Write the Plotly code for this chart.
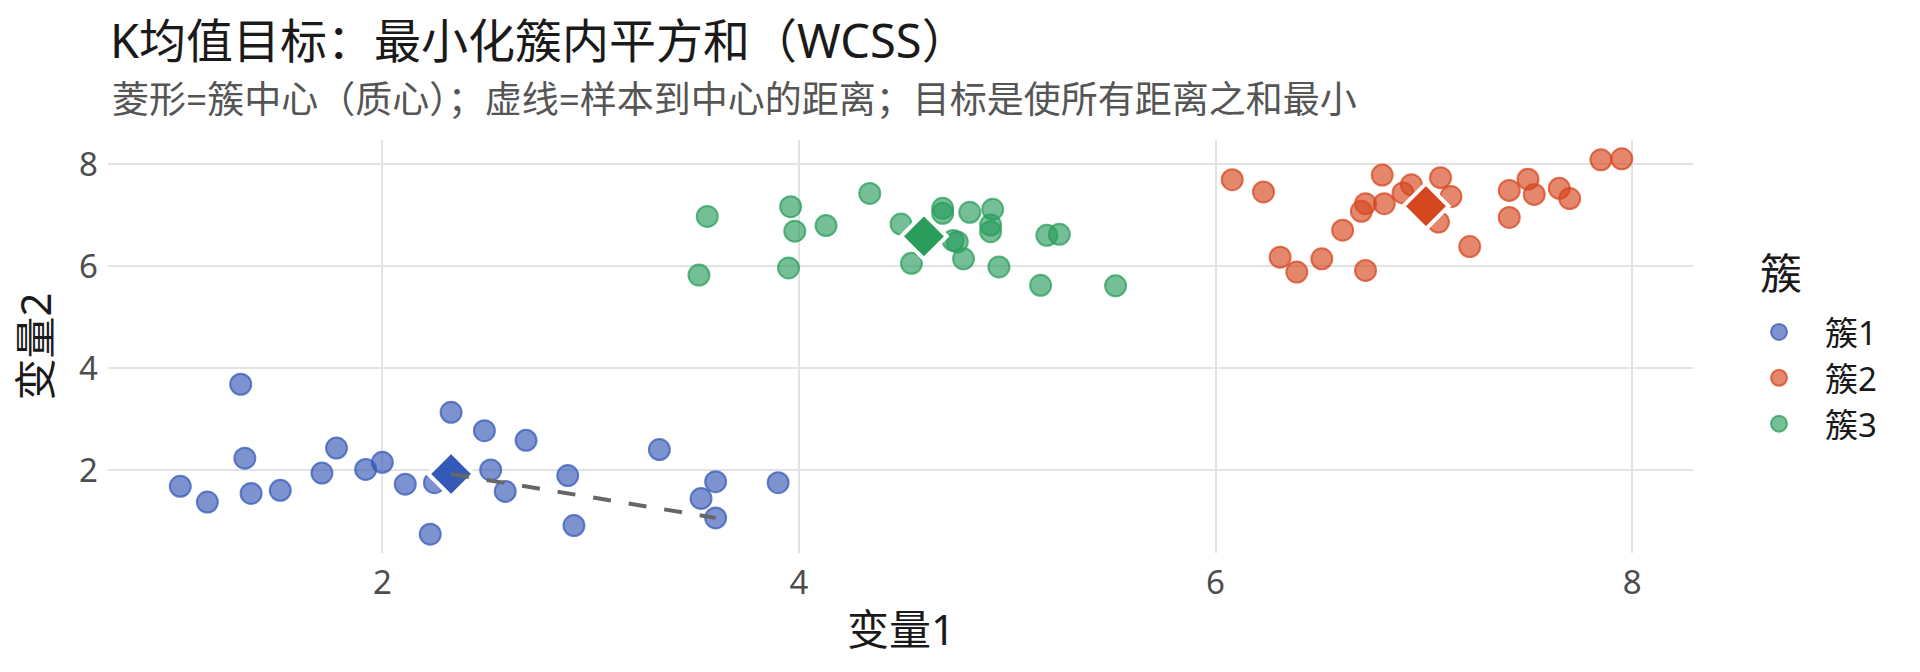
import plotly.graph_objects as go

# cluster samples
c1_x = [1.03, 1.16, 1.32, 1.34, 1.37, 1.51, 1.71, 1.78, 1.92, 2.00, 2.11, 2.23, 2.25,
        2.33, 2.49, 2.52, 2.59, 2.69, 2.89, 2.92, 3.33, 3.53, 3.60, 3.60, 3.90]
c1_y = [1.69, 1.38, 3.69, 2.24, 1.55, 1.61, 1.95, 2.44, 2.02, 2.16, 1.73, 0.75, 1.76,
        3.14, 2.78, 2.01, 1.59, 2.59, 1.90, 0.92, 2.41, 1.45, 1.78, 1.07, 1.76]

c2_x = [6.08, 6.23, 6.31, 6.39, 6.51, 6.61, 6.70, 6.72, 6.72, 6.80, 6.81, 6.90, 6.94,
        7.08, 7.13, 7.07, 7.22, 7.41, 7.50, 7.53, 7.41, 7.65, 7.70, 7.85, 7.95]
c2_y = [7.70, 7.46, 6.18, 5.89, 6.15, 6.71, 7.08, 7.23, 5.92, 7.79, 7.23, 7.44, 7.60,
        7.74, 7.37, 6.87, 6.39, 7.49, 7.71, 7.41, 6.96, 7.53, 7.33, 8.09, 8.11]

c3_x = [3.56, 3.52, 3.96, 3.98, 3.95, 4.13, 4.34, 4.49, 4.69, 4.69, 4.82, 4.93,
        4.92, 4.92, 4.74, 4.76, 4.79, 4.54, 4.96, 5.19, 5.25, 5.16, 5.52]
c3_y = [6.98, 5.83, 7.17, 6.69, 5.97, 6.80, 7.43, 6.83, 7.14, 7.04, 7.06, 7.12,
        6.81, 6.68, 6.51, 6.48, 6.15, 6.06, 5.99, 6.61, 6.63, 5.63, 5.62]

names = ["簇1", "簇2", "簇3"]
colors = ["53,89,183", "213,71,31", "42,157,92"]
centers_x = [2.33, 7.01, 4.60]
centers_y = [1.93, 7.18, 6.59]

# one sample -> centre distance drawn as example
dist_from = [2.33, 1.93]
dist_to = [3.60, 1.07]

xs = [c1_x, c2_x, c3_x]
ys = [c1_y, c2_y, c3_y]

font = "Noto Sans, Noto Sans CJK SC"

# plot area in pixels (used for placing text)
L, T, W, H = 108, 140, 1585, 413


def px(xp):
    return (xp - L) / W


def py(yp):
    return (T + H - yp) / H


fig = go.Figure()

for i in range(3):
    fig.add_trace(go.Scatter(
        x=xs[i], y=ys[i], mode="markers", name=names[i],
        marker=dict(size=21, color=f"rgba({colors[i]},0.65)",
                    line=dict(width=2, color=f"rgba({colors[i]},0.75)")),
    ))

for i in range(3):
    fig.add_trace(go.Scatter(
        x=[centers_x[i]], y=[centers_y[i]], mode="markers", showlegend=False,
        marker=dict(symbol="diamond", size=35, color=f"rgb({colors[i]})",
                    line=dict(width=4, color="white")),
    ))

fig.add_trace(go.Scatter(
    x=[dist_from[0], dist_to[0]], y=[dist_from[1], dist_to[1]], mode="lines",
    showlegend=False, line=dict(color="#666666", width=4, dash="18px,18px"),
))

axis_common = dict(
    showgrid=True, gridcolor="#e3e3e3", gridwidth=1.5,
    zeroline=False, showline=False, ticks="", automargin=False,
    tickfont=dict(family=font, size=33, color="#4d4d4d"),
    tickvals=[2, 4, 6, 8],
)

fig.update_layout(
    width=1920, height=672,
    paper_bgcolor="white", plot_bgcolor="white",
    font=dict(family=font),
    margin=dict(l=L, r=1920 - L - W, t=T, b=672 - T - H),
    title=dict(
        text="K均值目标：最小化簇内平方和（WCSS）",
        x=110 / 1920, xref="container", xanchor="left",
        y=1 - 42 / 672, yref="container", yanchor="middle",
        font=dict(family=font, size=47, color="#1a1a1a"),
    ),
    xaxis=dict(range=[0.683, 8.292], ticklabelstandoff=7, **axis_common),
    yaxis=dict(range=[0.382, 8.478], ticklabelstandoff=9, **axis_common),
    legend=dict(
        font=dict(family=font, size=33, color="#1a1a1a"),
        x=px(1733), xanchor="left", y=py(304), yanchor="top",
        itemwidth=82, tracegroupgap=0,
    ),
    annotations=[
        dict(text="菱形=簇中心（质心）；虚线=样本到中心的距离；目标是使所有距离之和最小",
             xref="paper", yref="paper", x=px(110), y=py(98),
             xanchor="left", yanchor="middle", showarrow=False,
             font=dict(family=font, size=37, color="#555555")),
        dict(text="变量1", xref="paper", yref="paper", x=0.5, y=py(628),
             xanchor="center", yanchor="middle", showarrow=False,
             font=dict(family=font, size=42, color="#1a1a1a")),
        dict(text="变量2", xref="paper", yref="paper", x=px(34), y=0.5,
             xanchor="center", yanchor="middle", showarrow=False, textangle=-90,
             font=dict(family=font, size=42, color="#1a1a1a")),
        dict(text="簇", xref="paper", yref="paper", x=px(1758), y=py(272),
             xanchor="left", yanchor="middle", showarrow=False,
             font=dict(family=font, size=42, color="#1a1a1a")),
    ],
)

# drop the browser's default body margin so the figure sits at the page corner
fig.write_html("out.html", config={"displayModeBar": False},
               post_script="document.body.style.margin='0';")
